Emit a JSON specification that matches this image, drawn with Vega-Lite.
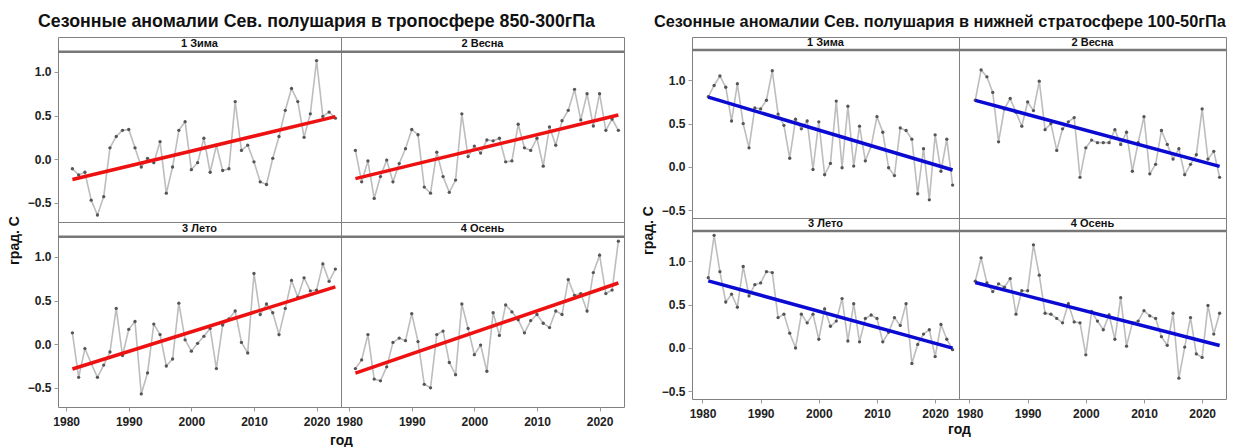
{
"$schema": "https://vega.github.io/schema/vega-lite/v6.json",
"padding": {"left": 6, "top": 12, "right": 5, "bottom": 4},
"spacing": 14,
"datasets": {
"tropo": [
{"s":"1 Зима","t":1981,"v":-0.11},{"s":"1 Зима","t":1982,"v":-0.18},{"s":"1 Зима","t":1983,"v":-0.15},{"s":"1 Зима","t":1984,"v":-0.47},{"s":"1 Зима","t":1985,"v":-0.64},{"s":"1 Зима","t":1986,"v":-0.43},{"s":"1 Зима","t":1987,"v":0.13},{"s":"1 Зима","t":1988,"v":0.26},{"s":"1 Зима","t":1989,"v":0.33},{"s":"1 Зима","t":1990,"v":0.34},
{"s":"1 Зима","t":1991,"v":0.13},{"s":"1 Зима","t":1992,"v":-0.09},{"s":"1 Зима","t":1993,"v":0.01},{"s":"1 Зима","t":1994,"v":-0.04},{"s":"1 Зима","t":1995,"v":0.2},{"s":"1 Зима","t":1996,"v":-0.39},{"s":"1 Зима","t":1997,"v":-0.09},{"s":"1 Зима","t":1998,"v":0.33},{"s":"1 Зима","t":1999,"v":0.43},{"s":"1 Зима","t":2000,"v":-0.12},
{"s":"1 Зима","t":2001,"v":-0.04},{"s":"1 Зима","t":2002,"v":0.24},{"s":"1 Зима","t":2003,"v":-0.15},{"s":"1 Зима","t":2004,"v":0.16},{"s":"1 Зима","t":2005,"v":-0.13},{"s":"1 Зима","t":2006,"v":-0.11},{"s":"1 Зима","t":2007,"v":0.66},{"s":"1 Зима","t":2008,"v":0.1},{"s":"1 Зима","t":2009,"v":0.16},{"s":"1 Зима","t":2010,"v":-0.03},
{"s":"1 Зима","t":2011,"v":-0.26},{"s":"1 Зима","t":2012,"v":-0.29},{"s":"1 Зима","t":2013,"v":0.01},{"s":"1 Зима","t":2014,"v":0.26},{"s":"1 Зима","t":2015,"v":0.56},{"s":"1 Зима","t":2016,"v":0.81},{"s":"1 Зима","t":2017,"v":0.66},{"s":"1 Зима","t":2018,"v":0.25},{"s":"1 Зима","t":2019,"v":0.52},{"s":"1 Зима","t":2020,"v":1.13},
{"s":"1 Зима","t":2021,"v":0.49},{"s":"1 Зима","t":2022,"v":0.54},{"s":"1 Зима","t":2023,"v":0.47},
{"s":"2 Весна","t":1981,"v":0.1},{"s":"2 Весна","t":1982,"v":-0.26},{"s":"2 Весна","t":1983,"v":-0.02},{"s":"2 Весна","t":1984,"v":-0.45},{"s":"2 Весна","t":1985,"v":-0.2},{"s":"2 Весна","t":1986,"v":-0.01},{"s":"2 Весна","t":1987,"v":-0.26},{"s":"2 Весна","t":1988,"v":-0.05},{"s":"2 Весна","t":1989,"v":0.12},{"s":"2 Весна","t":1990,"v":0.34},
{"s":"2 Весна","t":1991,"v":0.28},{"s":"2 Весна","t":1992,"v":-0.32},{"s":"2 Весна","t":1993,"v":-0.39},{"s":"2 Весна","t":1994,"v":0.08},{"s":"2 Весна","t":1995,"v":-0.2},{"s":"2 Весна","t":1996,"v":-0.38},{"s":"2 Весна","t":1997,"v":-0.24},{"s":"2 Весна","t":1998,"v":0.52},{"s":"2 Весна","t":1999,"v":0.03},{"s":"2 Весна","t":2000,"v":0.15},
{"s":"2 Весна","t":2001,"v":0.07},{"s":"2 Весна","t":2002,"v":0.22},{"s":"2 Весна","t":2003,"v":0.21},{"s":"2 Весна","t":2004,"v":0.24},{"s":"2 Весна","t":2005,"v":-0.03},{"s":"2 Весна","t":2006,"v":-0.02},{"s":"2 Весна","t":2007,"v":0.4},{"s":"2 Весна","t":2008,"v":0.13},{"s":"2 Весна","t":2009,"v":0.1},{"s":"2 Весна","t":2010,"v":0.24},
{"s":"2 Весна","t":2011,"v":-0.08},{"s":"2 Весна","t":2012,"v":0.37},{"s":"2 Весна","t":2013,"v":0.16},{"s":"2 Весна","t":2014,"v":0.44},{"s":"2 Весна","t":2015,"v":0.56},{"s":"2 Весна","t":2016,"v":0.8},{"s":"2 Весна","t":2017,"v":0.45},{"s":"2 Весна","t":2018,"v":0.75},{"s":"2 Весна","t":2019,"v":0.38},{"s":"2 Весна","t":2020,"v":0.75},
{"s":"2 Весна","t":2021,"v":0.33},{"s":"2 Весна","t":2022,"v":0.46},{"s":"2 Весна","t":2023,"v":0.33},
{"s":"3 Лето","t":1981,"v":0.13},{"s":"3 Лето","t":1982,"v":-0.38},{"s":"3 Лето","t":1983,"v":-0.05},{"s":"3 Лето","t":1984,"v":-0.22},{"s":"3 Лето","t":1985,"v":-0.38},{"s":"3 Лето","t":1986,"v":-0.24},{"s":"3 Лето","t":1987,"v":-0.09},{"s":"3 Лето","t":1988,"v":0.41},{"s":"3 Лето","t":1989,"v":-0.13},{"s":"3 Лето","t":1990,"v":0.17},
{"s":"3 Лето","t":1991,"v":0.26},{"s":"3 Лето","t":1992,"v":-0.57},{"s":"3 Лето","t":1993,"v":-0.33},{"s":"3 Лето","t":1994,"v":0.23},{"s":"3 Лето","t":1995,"v":0.11},{"s":"3 Лето","t":1996,"v":-0.25},{"s":"3 Лето","t":1997,"v":-0.17},{"s":"3 Лето","t":1998,"v":0.47},{"s":"3 Лето","t":1999,"v":0.05},{"s":"3 Лето","t":2000,"v":-0.08},
{"s":"3 Лето","t":2001,"v":0.01},{"s":"3 Лето","t":2002,"v":0.09},{"s":"3 Лето","t":2003,"v":0.18},{"s":"3 Лето","t":2004,"v":-0.28},{"s":"3 Лето","t":2005,"v":0.22},{"s":"3 Лето","t":2006,"v":0.29},{"s":"3 Лето","t":2007,"v":0.38},{"s":"3 Лето","t":2008,"v":0.02},{"s":"3 Лето","t":2009,"v":-0.1},{"s":"3 Лето","t":2010,"v":0.81},
{"s":"3 Лето","t":2011,"v":0.34},{"s":"3 Лето","t":2012,"v":0.46},{"s":"3 Лето","t":2013,"v":0.36},{"s":"3 Лето","t":2014,"v":0.11},{"s":"3 Лето","t":2015,"v":0.41},{"s":"3 Лето","t":2016,"v":0.73},{"s":"3 Лето","t":2017,"v":0.54},{"s":"3 Лето","t":2018,"v":0.76},{"s":"3 Лето","t":2019,"v":0.61},{"s":"3 Лето","t":2020,"v":0.62},
{"s":"3 Лето","t":2021,"v":0.92},{"s":"3 Лето","t":2022,"v":0.72},{"s":"3 Лето","t":2023,"v":0.86},
{"s":"4 Осень","t":1981,"v":-0.28},{"s":"4 Осень","t":1982,"v":-0.18},{"s":"4 Осень","t":1983,"v":0.11},{"s":"4 Осень","t":1984,"v":-0.4},{"s":"4 Осень","t":1985,"v":-0.42},{"s":"4 Осень","t":1986,"v":-0.26},{"s":"4 Осень","t":1987,"v":0.02},{"s":"4 Осень","t":1988,"v":0.07},{"s":"4 Осень","t":1989,"v":0.04},{"s":"4 Осень","t":1990,"v":0.35},
{"s":"4 Осень","t":1991,"v":0.03},{"s":"4 Осень","t":1992,"v":-0.46},{"s":"4 Осень","t":1993,"v":-0.5},{"s":"4 Осень","t":1994,"v":0.11},{"s":"4 Осень","t":1995,"v":0.15},{"s":"4 Осень","t":1996,"v":-0.21},{"s":"4 Осень","t":1997,"v":-0.35},{"s":"4 Осень","t":1998,"v":0.46},{"s":"4 Осень","t":1999,"v":0.18},{"s":"4 Осень","t":2000,"v":-0.12},
{"s":"4 Осень","t":2001,"v":-0.01},{"s":"4 Осень","t":2002,"v":-0.31},{"s":"4 Осень","t":2003,"v":0.36},{"s":"4 Осень","t":2004,"v":0.1},{"s":"4 Осень","t":2005,"v":0.45},{"s":"4 Осень","t":2006,"v":0.37},{"s":"4 Осень","t":2007,"v":0.28},{"s":"4 Осень","t":2008,"v":0.13},{"s":"4 Осень","t":2009,"v":0.27},{"s":"4 Осень","t":2010,"v":0.34},
{"s":"4 Осень","t":2011,"v":0.24},{"s":"4 Осень","t":2012,"v":0.19},{"s":"4 Осень","t":2013,"v":0.38},{"s":"4 Осень","t":2014,"v":0.34},{"s":"4 Осень","t":2015,"v":0.74},{"s":"4 Осень","t":2016,"v":0.56},{"s":"4 Осень","t":2017,"v":0.58},{"s":"4 Осень","t":2018,"v":0.38},{"s":"4 Осень","t":2019,"v":0.82},{"s":"4 Осень","t":2020,"v":1.02},
{"s":"4 Осень","t":2021,"v":0.58},{"s":"4 Осень","t":2022,"v":0.62},{"s":"4 Осень","t":2023,"v":1.18}
],
"strato": [
{"s":"1 Зима","t":1981,"v":0.81},{"s":"1 Зима","t":1982,"v":0.94},{"s":"1 Зима","t":1983,"v":1.05},{"s":"1 Зима","t":1984,"v":0.92},{"s":"1 Зима","t":1985,"v":0.53},{"s":"1 Зима","t":1986,"v":0.96},{"s":"1 Зима","t":1987,"v":0.5},{"s":"1 Зима","t":1988,"v":0.22},{"s":"1 Зима","t":1989,"v":0.68},{"s":"1 Зима","t":1990,"v":0.67},
{"s":"1 Зима","t":1991,"v":0.77},{"s":"1 Зима","t":1992,"v":1.11},{"s":"1 Зима","t":1993,"v":0.61},{"s":"1 Зима","t":1994,"v":0.48},{"s":"1 Зима","t":1995,"v":0.1},{"s":"1 Зима","t":1996,"v":0.55},{"s":"1 Зима","t":1997,"v":0.44},{"s":"1 Зима","t":1998,"v":0.53},{"s":"1 Зима","t":1999,"v":-0.03},{"s":"1 Зима","t":2000,"v":0.52},
{"s":"1 Зима","t":2001,"v":-0.09},{"s":"1 Зима","t":2002,"v":0.04},{"s":"1 Зима","t":2003,"v":0.76},{"s":"1 Зима","t":2004,"v":-0.01},{"s":"1 Зима","t":2005,"v":0.7},{"s":"1 Зима","t":2006,"v":0.01},{"s":"1 Зима","t":2007,"v":0.47},{"s":"1 Зима","t":2008,"v":0.07},{"s":"1 Зима","t":2009,"v":0.24},{"s":"1 Зима","t":2010,"v":0.58},
{"s":"1 Зима","t":2011,"v":0.4},{"s":"1 Зима","t":2012,"v":-0.01},{"s":"1 Зима","t":2013,"v":-0.1},{"s":"1 Зима","t":2014,"v":0.45},{"s":"1 Зима","t":2015,"v":0.42},{"s":"1 Зима","t":2016,"v":0.32},{"s":"1 Зима","t":2017,"v":-0.31},{"s":"1 Зима","t":2018,"v":0.21},{"s":"1 Зима","t":2019,"v":-0.38},{"s":"1 Зима","t":2020,"v":0.37},
{"s":"1 Зима","t":2021,"v":-0.05},{"s":"1 Зима","t":2022,"v":0.32},{"s":"1 Зима","t":2023,"v":-0.21},
{"s":"2 Весна","t":1981,"v":0.77},{"s":"2 Весна","t":1982,"v":1.12},{"s":"2 Весна","t":1983,"v":1.04},{"s":"2 Весна","t":1984,"v":0.86},{"s":"2 Весна","t":1985,"v":0.29},{"s":"2 Весна","t":1986,"v":0.67},{"s":"2 Весна","t":1987,"v":0.79},{"s":"2 Весна","t":1988,"v":0.63},{"s":"2 Весна","t":1989,"v":0.47},{"s":"2 Весна","t":1990,"v":0.75},
{"s":"2 Весна","t":1991,"v":0.65},{"s":"2 Весна","t":1992,"v":0.99},{"s":"2 Весна","t":1993,"v":0.43},{"s":"2 Весна","t":1994,"v":0.5},{"s":"2 Весна","t":1995,"v":0.19},{"s":"2 Весна","t":1996,"v":0.44},{"s":"2 Весна","t":1997,"v":0.52},{"s":"2 Весна","t":1998,"v":0.57},{"s":"2 Весна","t":1999,"v":-0.12},{"s":"2 Весна","t":2000,"v":0.22},
{"s":"2 Весна","t":2001,"v":0.31},{"s":"2 Весна","t":2002,"v":0.28},{"s":"2 Весна","t":2003,"v":0.28},{"s":"2 Весна","t":2004,"v":0.28},{"s":"2 Весна","t":2005,"v":0.43},{"s":"2 Весна","t":2006,"v":0.26},{"s":"2 Весна","t":2007,"v":0.4},{"s":"2 Весна","t":2008,"v":-0.05},{"s":"2 Весна","t":2009,"v":0.28},{"s":"2 Весна","t":2010,"v":0.58},
{"s":"2 Весна","t":2011,"v":-0.08},{"s":"2 Весна","t":2012,"v":0.03},{"s":"2 Весна","t":2013,"v":0.42},{"s":"2 Весна","t":2014,"v":0.26},{"s":"2 Весна","t":2015,"v":0.09},{"s":"2 Весна","t":2016,"v":0.21},{"s":"2 Весна","t":2017,"v":-0.09},{"s":"2 Весна","t":2018,"v":0.03},{"s":"2 Весна","t":2019,"v":0.14},{"s":"2 Весна","t":2020,"v":0.67},
{"s":"2 Весна","t":2021,"v":0.09},{"s":"2 Весна","t":2022,"v":0.18},{"s":"2 Весна","t":2023,"v":-0.12},
{"s":"3 Лето","t":1981,"v":0.81},{"s":"3 Лето","t":1982,"v":1.3},{"s":"3 Лето","t":1983,"v":0.88},{"s":"3 Лето","t":1984,"v":0.53},{"s":"3 Лето","t":1985,"v":0.62},{"s":"3 Лето","t":1986,"v":0.47},{"s":"3 Лето","t":1987,"v":0.94},{"s":"3 Лето","t":1988,"v":0.6},{"s":"3 Лето","t":1989,"v":0.73},{"s":"3 Лето","t":1990,"v":0.75},
{"s":"3 Лето","t":1991,"v":0.88},{"s":"3 Лето","t":1992,"v":0.87},{"s":"3 Лето","t":1993,"v":0.35},{"s":"3 Лето","t":1994,"v":0.39},{"s":"3 Лето","t":1995,"v":0.17},{"s":"3 Лето","t":1996,"v":0.0},{"s":"3 Лето","t":1997,"v":0.39},{"s":"3 Лето","t":1998,"v":0.29},{"s":"3 Лето","t":1999,"v":0.39},{"s":"3 Лето","t":2000,"v":0.1},
{"s":"3 Лето","t":2001,"v":0.45},{"s":"3 Лето","t":2002,"v":0.25},{"s":"3 Лето","t":2003,"v":0.31},{"s":"3 Лето","t":2004,"v":0.57},{"s":"3 Лето","t":2005,"v":0.08},{"s":"3 Лето","t":2006,"v":0.51},{"s":"3 Лето","t":2007,"v":0.07},{"s":"3 Лето","t":2008,"v":0.34},{"s":"3 Лето","t":2009,"v":0.38},{"s":"3 Лето","t":2010,"v":0.34},
{"s":"3 Лето","t":2011,"v":0.07},{"s":"3 Лето","t":2012,"v":0.18},{"s":"3 Лето","t":2013,"v":0.35},{"s":"3 Лето","t":2014,"v":0.26},{"s":"3 Лето","t":2015,"v":0.51},{"s":"3 Лето","t":2016,"v":-0.18},{"s":"3 Лето","t":2017,"v":0.04},{"s":"3 Лето","t":2018,"v":0.16},{"s":"3 Лето","t":2019,"v":0.21},{"s":"3 Лето","t":2020,"v":-0.1},
{"s":"3 Лето","t":2021,"v":0.27},{"s":"3 Лето","t":2022,"v":0.1},{"s":"3 Лето","t":2023,"v":-0.02},
{"s":"4 Осень","t":1981,"v":0.77},{"s":"4 Осень","t":1982,"v":1.04},{"s":"4 Осень","t":1983,"v":0.75},{"s":"4 Осень","t":1984,"v":0.65},{"s":"4 Осень","t":1985,"v":0.74},{"s":"4 Осень","t":1986,"v":0.7},{"s":"4 Осень","t":1987,"v":0.8},{"s":"4 Осень","t":1988,"v":0.39},{"s":"4 Осень","t":1989,"v":0.66},{"s":"4 Осень","t":1990,"v":0.66},
{"s":"4 Осень","t":1991,"v":1.19},{"s":"4 Осень","t":1992,"v":0.84},{"s":"4 Осень","t":1993,"v":0.4},{"s":"4 Осень","t":1994,"v":0.39},{"s":"4 Осень","t":1995,"v":0.34},{"s":"4 Осень","t":1996,"v":0.29},{"s":"4 Осень","t":1997,"v":0.51},{"s":"4 Осень","t":1998,"v":0.3},{"s":"4 Осень","t":1999,"v":0.29},{"s":"4 Осень","t":2000,"v":-0.08},
{"s":"4 Осень","t":2001,"v":0.42},{"s":"4 Осень","t":2002,"v":0.31},{"s":"4 Осень","t":2003,"v":0.21},{"s":"4 Осень","t":2004,"v":0.38},{"s":"4 Осень","t":2005,"v":0.1},{"s":"4 Осень","t":2006,"v":0.58},{"s":"4 Осень","t":2007,"v":0.02},{"s":"4 Осень","t":2008,"v":0.29},{"s":"4 Осень","t":2009,"v":0.31},{"s":"4 Осень","t":2010,"v":0.43},
{"s":"4 Осень","t":2011,"v":0.37},{"s":"4 Осень","t":2012,"v":0.34},{"s":"4 Осень","t":2013,"v":0.13},{"s":"4 Осень","t":2014,"v":0.03},{"s":"4 Осень","t":2015,"v":0.4},{"s":"4 Осень","t":2016,"v":-0.35},{"s":"4 Осень","t":2017,"v":0.01},{"s":"4 Осень","t":2018,"v":0.35},{"s":"4 Осень","t":2019,"v":-0.07},{"s":"4 Осень","t":2020,"v":-0.11},
{"s":"4 Осень","t":2021,"v":0.49},{"s":"4 Осень","t":2022,"v":0.16},{"s":"4 Осень","t":2023,"v":0.4}
]
},
"hconcat": [
{
"data": {"name": "tropo"},
"title": {"text": "Сезонные аномалии Сев. полушария в тропосфере 850-300гПа", "fontSize": 17.8, "fontWeight": "bold", "anchor": "start", "frame": "group", "dx": -20, "offset": 6, "color": "#111"},
"columns": 2, "spacing": 0, "bounds": "flush",
"concat": [
{"width": 283, "height": 185, "transform": [{"filter": "datum.s == '1 Зима'"}],
 "encoding": {"x": {"field": "t", "type": "quantitative", "scale": {"domain": [1978.7, 2023.9], "nice": false, "zero": false}, "axis": null},
  "y": {"field": "v", "type": "quantitative", "scale": {"domain": [-0.72, 1.40], "nice": false, "zero": false}, "axis": {"values": [-0.5, 0, 0.5, 1], "format": ".1f", "title": null}}},
 "layer": [
  {"mark": {"type": "line", "color": "#bdbdbd", "strokeWidth": 1.6}},
  {"mark": {"type": "circle", "color": "#555", "size": 11, "opacity": 1}},
  {"transform": [{"regression": "v", "on": "t"}], "mark": {"type": "line", "color": "#ee1111", "strokeWidth": 3.5}},
  {"transform": [{"filter": "datum.t == 1981"}], "mark": {"type": "rule", "color": "#777", "strokeWidth": 2.5}, "encoding": {"x": null, "y": {"datum": 1.23, "type": "quantitative"}}},
  {"transform": [{"filter": "datum.t == 1981"}], "mark": {"type": "text", "fontWeight": "bold", "fontSize": 11, "color": "#111"}, "encoding": {"x": null, "y": {"datum": 1.315, "type": "quantitative"}, "text": {"field": "s"}}}
 ]},
{"width": 283, "height": 185, "transform": [{"filter": "datum.s == '2 Весна'"}],
 "encoding": {"x": {"field": "t", "type": "quantitative", "scale": {"domain": [1978.7, 2023.9], "nice": false, "zero": false}, "axis": null},
  "y": {"field": "v", "type": "quantitative", "scale": {"domain": [-0.72, 1.40], "nice": false, "zero": false}, "axis": null}},
 "layer": [
  {"mark": {"type": "line", "color": "#bdbdbd", "strokeWidth": 1.6}},
  {"mark": {"type": "circle", "color": "#555", "size": 11, "opacity": 1}},
  {"transform": [{"regression": "v", "on": "t"}], "mark": {"type": "line", "color": "#ee1111", "strokeWidth": 3.5}},
  {"transform": [{"filter": "datum.t == 1981"}], "mark": {"type": "rule", "color": "#777", "strokeWidth": 2.5}, "encoding": {"x": null, "y": {"datum": 1.23, "type": "quantitative", "axis": null}}},
  {"transform": [{"filter": "datum.t == 1981"}], "mark": {"type": "text", "fontWeight": "bold", "fontSize": 11, "color": "#111"}, "encoding": {"x": null, "y": {"datum": 1.315, "type": "quantitative", "axis": null}, "text": {"field": "s"}}}
 ]},
{"width": 283, "height": 185, "transform": [{"filter": "datum.s == '3 Лето'"}],
 "encoding": {"x": {"field": "t", "type": "quantitative", "scale": {"domain": [1978.7, 2023.9], "nice": false, "zero": false}, "axis": {"values": [1980, 1990, 2000, 2010, 2020], "format": "d", "title": "год", "titleX": 283, "titlePadding": 6}},
  "y": {"field": "v", "type": "quantitative", "scale": {"domain": [-0.72, 1.40], "nice": false, "zero": false}, "axis": {"values": [-0.5, 0, 0.5, 1], "format": ".1f", "title": "град. С", "titleY": 18, "titlePadding": 6}}},
 "layer": [
  {"mark": {"type": "line", "color": "#bdbdbd", "strokeWidth": 1.6}},
  {"mark": {"type": "circle", "color": "#555", "size": 11, "opacity": 1}},
  {"transform": [{"regression": "v", "on": "t"}], "mark": {"type": "line", "color": "#ee1111", "strokeWidth": 3.5}},
  {"transform": [{"filter": "datum.t == 1981"}], "mark": {"type": "rule", "color": "#777", "strokeWidth": 2.5}, "encoding": {"x": null, "y": {"datum": 1.23, "type": "quantitative"}}},
  {"transform": [{"filter": "datum.t == 1981"}], "mark": {"type": "text", "fontWeight": "bold", "fontSize": 11, "color": "#111"}, "encoding": {"x": null, "y": {"datum": 1.315, "type": "quantitative"}, "text": {"field": "s"}}}
 ]},
{"width": 283, "height": 185, "transform": [{"filter": "datum.s == '4 Осень'"}],
 "encoding": {"x": {"field": "t", "type": "quantitative", "scale": {"domain": [1978.7, 2023.9], "nice": false, "zero": false}, "axis": {"values": [1980, 1990, 2000, 2010, 2020], "format": "d", "title": null}},
  "y": {"field": "v", "type": "quantitative", "scale": {"domain": [-0.72, 1.40], "nice": false, "zero": false}, "axis": null}},
 "layer": [
  {"mark": {"type": "line", "color": "#bdbdbd", "strokeWidth": 1.6}},
  {"mark": {"type": "circle", "color": "#555", "size": 11, "opacity": 1}},
  {"transform": [{"regression": "v", "on": "t"}], "mark": {"type": "line", "color": "#ee1111", "strokeWidth": 3.5}},
  {"transform": [{"filter": "datum.t == 1981"}], "mark": {"type": "rule", "color": "#777", "strokeWidth": 2.5}, "encoding": {"x": null, "y": {"datum": 1.23, "type": "quantitative", "axis": null}}},
  {"transform": [{"filter": "datum.t == 1981"}], "mark": {"type": "text", "fontWeight": "bold", "fontSize": 11, "color": "#111"}, "encoding": {"x": null, "y": {"datum": 1.315, "type": "quantitative", "axis": null}, "text": {"field": "s"}}}
 ]}
]
},
{
"data": {"name": "strato"},
"title": {"text": "Сезонные аномалии Сев. полушария в нижней стратосфере 100-50гПа", "fontSize": 16.3, "fontWeight": "bold", "anchor": "start", "frame": "group", "dx": -38, "offset": 6, "color": "#111"},
"columns": 2, "spacing": 0, "bounds": "flush",
"concat": [
{"width": 267, "height": 181, "transform": [{"filter": "datum.s == '1 Зима'"}],
 "encoding": {"x": {"field": "t", "type": "quantitative", "scale": {"domain": [1978.2, 2024.1], "nice": false, "zero": false}, "axis": null},
  "y": {"field": "v", "type": "quantitative", "scale": {"domain": [-0.59, 1.50], "nice": false, "zero": false}, "axis": {"values": [-0.5, 0, 0.5, 1], "format": ".1f", "title": null}}},
 "layer": [
  {"mark": {"type": "line", "color": "#bdbdbd", "strokeWidth": 1.6}},
  {"mark": {"type": "circle", "color": "#555", "size": 11, "opacity": 1}},
  {"transform": [{"regression": "v", "on": "t"}], "mark": {"type": "line", "color": "#0a0ad2", "strokeWidth": 3.5}},
  {"transform": [{"filter": "datum.t == 1981"}], "mark": {"type": "rule", "color": "#777", "strokeWidth": 2.5}, "encoding": {"x": null, "y": {"datum": 1.35, "type": "quantitative"}}},
  {"transform": [{"filter": "datum.t == 1981"}], "mark": {"type": "text", "fontWeight": "bold", "fontSize": 11, "color": "#111"}, "encoding": {"x": null, "y": {"datum": 1.43, "type": "quantitative"}, "text": {"field": "s"}}}
 ]},
{"width": 267, "height": 181, "transform": [{"filter": "datum.s == '2 Весна'"}],
 "encoding": {"x": {"field": "t", "type": "quantitative", "scale": {"domain": [1978.2, 2024.1], "nice": false, "zero": false}, "axis": null},
  "y": {"field": "v", "type": "quantitative", "scale": {"domain": [-0.59, 1.50], "nice": false, "zero": false}, "axis": null}},
 "layer": [
  {"mark": {"type": "line", "color": "#bdbdbd", "strokeWidth": 1.6}},
  {"mark": {"type": "circle", "color": "#555", "size": 11, "opacity": 1}},
  {"transform": [{"regression": "v", "on": "t"}], "mark": {"type": "line", "color": "#0a0ad2", "strokeWidth": 3.5}},
  {"transform": [{"filter": "datum.t == 1981"}], "mark": {"type": "rule", "color": "#777", "strokeWidth": 2.5}, "encoding": {"x": null, "y": {"datum": 1.35, "type": "quantitative", "axis": null}}},
  {"transform": [{"filter": "datum.t == 1981"}], "mark": {"type": "text", "fontWeight": "bold", "fontSize": 11, "color": "#111"}, "encoding": {"x": null, "y": {"datum": 1.43, "type": "quantitative", "axis": null}, "text": {"field": "s"}}}
 ]},
{"width": 267, "height": 181, "transform": [{"filter": "datum.s == '3 Лето'"}],
 "encoding": {"x": {"field": "t", "type": "quantitative", "scale": {"domain": [1978.2, 2024.1], "nice": false, "zero": false}, "axis": {"values": [1980, 1990, 2000, 2010, 2020], "format": "d", "title": "год", "titleX": 267, "titlePadding": 3}},
  "y": {"field": "v", "type": "quantitative", "scale": {"domain": [-0.59, 1.50], "nice": false, "zero": false}, "axis": {"values": [-0.5, 0, 0.5, 1], "format": ".1f", "title": "град. С", "titleY": 12, "titlePadding": 6}}},
 "layer": [
  {"mark": {"type": "line", "color": "#bdbdbd", "strokeWidth": 1.6}},
  {"mark": {"type": "circle", "color": "#555", "size": 11, "opacity": 1}},
  {"transform": [{"regression": "v", "on": "t"}], "mark": {"type": "line", "color": "#0a0ad2", "strokeWidth": 3.5}},
  {"transform": [{"filter": "datum.t == 1981"}], "mark": {"type": "rule", "color": "#777", "strokeWidth": 2.5}, "encoding": {"x": null, "y": {"datum": 1.35, "type": "quantitative"}}},
  {"transform": [{"filter": "datum.t == 1981"}], "mark": {"type": "text", "fontWeight": "bold", "fontSize": 11, "color": "#111"}, "encoding": {"x": null, "y": {"datum": 1.43, "type": "quantitative"}, "text": {"field": "s"}}}
 ]},
{"width": 267, "height": 181, "transform": [{"filter": "datum.s == '4 Осень'"}],
 "encoding": {"x": {"field": "t", "type": "quantitative", "scale": {"domain": [1978.2, 2024.1], "nice": false, "zero": false}, "axis": {"values": [1980, 1990, 2000, 2010, 2020], "format": "d", "title": null}},
  "y": {"field": "v", "type": "quantitative", "scale": {"domain": [-0.59, 1.50], "nice": false, "zero": false}, "axis": null}},
 "layer": [
  {"mark": {"type": "line", "color": "#bdbdbd", "strokeWidth": 1.6}},
  {"mark": {"type": "circle", "color": "#555", "size": 11, "opacity": 1}},
  {"transform": [{"regression": "v", "on": "t"}], "mark": {"type": "line", "color": "#0a0ad2", "strokeWidth": 3.5}},
  {"transform": [{"filter": "datum.t == 1981"}], "mark": {"type": "rule", "color": "#777", "strokeWidth": 2.5}, "encoding": {"x": null, "y": {"datum": 1.35, "type": "quantitative", "axis": null}}},
  {"transform": [{"filter": "datum.t == 1981"}], "mark": {"type": "text", "fontWeight": "bold", "fontSize": 11, "color": "#111"}, "encoding": {"x": null, "y": {"datum": 1.43, "type": "quantitative", "axis": null}, "text": {"field": "s"}}}
 ]}
]
}
],
"config": {
"font": "Liberation Sans",
"view": {"stroke": "#808080", "strokeWidth": 1},
"axis": {"grid": false, "domain": false, "labelFontWeight": "bold", "labelFontSize": 12, "labelColor": "#222", "titleFontWeight": "bold", "titleFontSize": 14, "titleColor": "#111", "tickColor": "#999", "tickSize": 4, "labelPadding": 3},
"axisX": {"labelPadding": 5}
}
}
